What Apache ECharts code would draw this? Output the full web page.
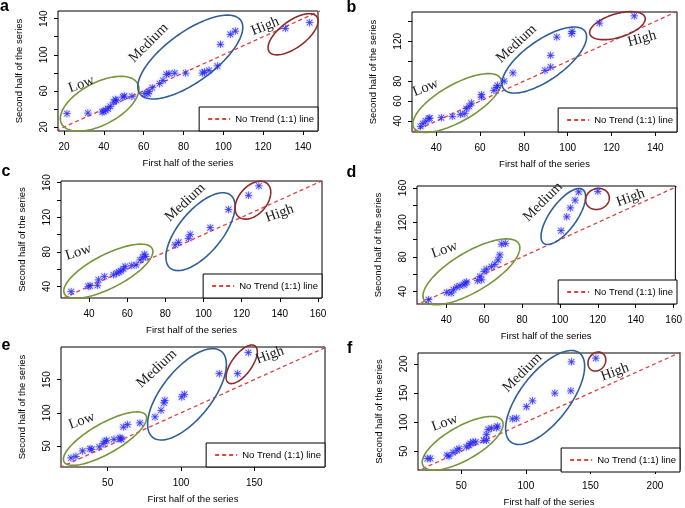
<!DOCTYPE html>
<html><head><meta charset="utf-8">
<script src="https://cdn.jsdelivr.net/npm/echarts@6/dist/echarts.min.js"></script>
<style>html,body{margin:0;padding:0;background:#fff}#c{width:685px;height:508px}</style>
</head><body><div id="c"></div>
<script>
// ---- data (first half vs second half of the series) ----
const panelLetters = ['a','b','c','d','e','f'];
const regionNames = ['Low','Medium','High'];
const legendName = 'No Trend (1:1) line';
const trendEnds = [0, 250];

const aFirst  = [21.5,32,39.2,40,40.9,42.1,43.3,44.9,45.8,46.3,49.6,50.3,54.1,60.5,62.2,62.7,64.3,68,69.7,71.4,72.7,75.6,81.1,89.5,90.5,92.8,97,98.5,103.5,106,131.1,143.3];
const aSecond = [34.8,35.5,36.6,37.4,38.5,40.3,42.9,47.7,50.6,49.5,53.2,54.3,53.9,56.9,56.9,59.5,63.6,68,71.7,78.3,79.1,79.8,79.8,79.8,80.9,82.8,87.6,111.6,122.7,126.3,129.3,135.6];

const bFirst  = [32.8,33.9,35.1,36.6,37,42.3,47.3,51,53,53.7,55,56,60.6,60.6,66.3,67.5,67.9,71,75,89.6,92.2,92.2,95,101.8,102,114.5,130.4];
const bSecond = [34.6,37.3,40,42.3,43,43.3,44.7,46.7,47.4,52.4,54.7,58,64,66.4,70.8,73.4,75.8,80.1,88.2,90.8,94.2,105.9,124.3,127.6,130,138.3,145.4];

const cFirst  = [30.6,39.6,40.5,44.4,44.9,48,52.8,54.5,55.7,56.6,58,58.9,62.4,64.7,66.8,68.2,69,69.7,85.1,86.9,92.1,93,103.5,113.1,123.6,129];
const cSecond = [33.9,40,40.8,41.2,47.7,51.5,53.4,55.3,56.5,58,60.3,63,64.2,64.9,70.7,73.4,77.2,74.5,87.9,91,95.6,100.2,107.9,129,145.4,156.2];

const dFirst  = [30.7,40.3,42.6,43.8,45.6,47.3,49.4,50,50.8,56.6,57.8,58.7,60,61.3,63.9,65.7,67.4,68.3,69.2,71.3,100.6,103.6,105.5,108,109.9,120];
const dSecond = [30.4,38.8,38.1,41.9,45,46.5,47.7,49.6,50.8,52.7,57.3,53.5,63,65.8,68.8,71.5,76.5,82.3,95,95.8,110.4,126.5,136.9,145.8,155.4,156.2];

const eFirst  = [25,28.4,32.9,38,39.1,44.3,47,48.2,49.3,54.3,58.4,59.5,58.9,60.7,63.6,72,82.3,86.4,88.4,89,100.5,102.3,126.1,138.6,145.9];
const eSecond = [31.9,34.4,42.5,46,45,48.5,53.5,57,58.5,60,62.6,60,61,78.6,82.2,84.7,93.7,103.8,114.8,118.8,123.9,127.9,159,159,190.7];

const fFirst  = [23.6,26,38.9,40.4,43.5,46.6,48.2,53.9,56,57,59,61.1,67.3,69.4,69.4,70.7,73.3,77.2,77.9,89.6,92.7,100.4,105.1,122.4,134.8,135.3,154.2];
const fSecond = [37.5,37.5,43.2,41.5,47.7,51.7,54.5,57.4,60.2,63,65.8,65.8,68.7,68.7,78.3,87.4,89.6,90.2,93,105.5,106.6,126.4,136.6,149.6,153.6,203.4,209.6];

// region outlines: [centreX, centreY, majorEndX, majorEndY, minor/major ratio] for Low, Medium, High
const aRegions = [[37.9,45.8,57,68,0.49],[83.4,97.5,108.7,138.2,0.40],[135,122.7,146.9,142.2,0.45]];
const bRegions = [[49.5,58.1,69.3,82.8,0.37],[89.3,101.2,107.9,130,0.40],[122.7,135.7,135.3,144,0.41]];
const cRegions = [[50.1,57.6,73.1,83.7,0.34],[98.4,103.3,114.3,145.4,0.455],[125.9,139.7,133.4,158.9,0.64]];
const dRegions = [[53.3,62.7,78.3,95.4,0.36],[101.8,126.9,112.1,158.1,0.40],[119.8,147.3,125.8,151.9,0.86]];
const eRegions = [[48.2,61.1,76.1,96.2,0.32],[104.1,127.9,127.5,192.7,0.45],[141.4,173.1,150.5,200.8,0.44]];
const fRegions = [[51,63.6,81.7,102.1,0.37],[114.9,142.2,141.5,218.6,0.44],[155,203.9,159.4,218.1,0.83]];

// tick values / tick labels
const xTicks  = [[20,40,60,80,100,120,140],[40,60,80,100,120,140],[40,60,80,100,120,140,160],[40,60,80,100,120,140,160],[50,100,150],[50,100,150,200]];
const xLabels = xTicks;
const yTicks  = [[20,40,60,80,100,120,140],[40,60,80,100,120,140],[40,60,80,100,120,140,160],[40,60,80,100,120,140,160],[50,100,150],[50,100,150,200]];
const yLabels = [[20,60,100,140],[40,60,80,120],[40,80,120,160],[40,80,120,160],[50,100,150],[50,100,150,200]];

// ---- layout ----
const panels = [
  {x:aFirst,y:aSecond,reg:aRegions},{x:bFirst,y:bSecond,reg:bRegions},{x:cFirst,y:cSecond,reg:cRegions},
  {x:dFirst,y:dSecond,reg:dRegions},{x:eFirst,y:eSecond,reg:eRegions},{x:fFirst,y:fSecond,reg:fRegions}
];
const grids = [
  {left:58,top:11,width:260,height:120},{left:412,top:12,width:265,height:120},
  {left:61,top:181,width:261,height:117},{left:417,top:186,width:260,height:118},
  {left:61,top:347,width:264,height:120},{left:418,top:353,width:262,height:119}
];
const xRange = [[17,147.5],[28.9,149.9],[25.3,162.1],[24.6,160.9],[18.2,198.2],[16.4,219.4]];
const yRange = [[15.6,148.5],[29,149.4],[26.6,161.9],[25.4,162.3],[18.3,199.2],[17.7,218.6]];
// region label anchors [x, y, rotation deg]
const labelPos = [
  [[28.7,67.3,20],[62.5,113,45],[121,131.5,22]],
  [[35.1,73.4,22],[76.6,117.6,43],[133.9,122.6,15]],
  [[34.4,79.5,18],[90.4,137,43],[139.9,124.4,20]],
  [[39.1,88.1,20],[91,143.8,45],[137.3,148.5,20]],
  [[32.3,87.7,20],[83.4,166.6,43],[160.7,186.7,20]],
  [[37.1,98.7,20],[97.3,184.7,45],[169,185.8,20]]
];
const letterPos = [[0,6.5],[346.5,7.8],[1.5,171.5],[346.5,172.5],[1.5,345.2],[347,348.5]];
const regionColors = ['#77963a','#2f5f97','#8f2b2b'];
const SANS = 'Liberation Sans';
const star = 'path://M0 9H20V11H0Z M9 0H11V20H9Z M2.9 1.5L18.5 17.1L17.1 18.5L1.5 2.9Z M17.1 1.5L18.5 2.9L2.9 18.5L1.5 17.1Z';

function renderRegion(params, api) {
  const c = api.coord([api.value(0), api.value(1)]);
  const e = api.coord([api.value(2), api.value(3)]);
  const r = api.value(4);
  const dx = e[0]-c[0], dy = e[1]-c[1];
  const pts = [];
  for (let k = 0; k < 120; k++) {
    const t = k/120*2*Math.PI;
    pts.push([c[0] + Math.cos(t)*dx - Math.sin(t)*dy*r, c[1] + Math.cos(t)*dy + Math.sin(t)*dx*r]);
  }
  return {type:'polygon', shape:{points:pts}, silent:true,
    style:{fill:'none', stroke:regionColors[params.dataIndex], lineWidth:1.6}};
}
function renderRegionLabel(params, api) {
  const p = api.coord([api.value(0), api.value(1)]);
  return {type:'text', x:p[0], y:p[1], rotation: api.value(2)*Math.PI/180, silent:true,
    style:{text: regionNames[params.dataIndex], font:'14.5px "Liberation Serif"', fill:'#1a1a1a', align:'center', verticalAlign:'middle'}};
}

const xAxis = [], yAxis = [], series = [], legend = [], graphic = [];
panels.forEach((p, i) => {
  xAxis.push({type:'value', gridIndex:i, min:xRange[i][0], max:xRange[i][1],
    splitLine:{show:false}, axisLine:{show:false},
    axisTick:{show:true, length:4, lineStyle:{color:'#000'}, customValues:xTicks[i]},
    axisLabel:{customValues:xLabels[i], color:'#000', fontSize:10, fontFamily:SANS, margin:11},
    name:'First half of the series', nameLocation:'middle', nameGap:27,
    nameTextStyle:{color:'#000', fontSize:9.5, fontFamily:SANS}});
  yAxis.push({type:'value', gridIndex:i, min:yRange[i][0], max:yRange[i][1],
    splitLine:{show:false}, axisLine:{show:false},
    axisTick:{show:true, length:4, lineStyle:{color:'#000'}, customValues:yTicks[i]},
    axisLabel:{customValues:yLabels[i], rotate:90, color:'#000', fontSize:10, fontFamily:SANS, margin:9},
    name:'Second half of the series', nameLocation:'middle', nameGap:34,
    nameTextStyle:{color:'#000', fontSize:9.5, fontFamily:SANS}});
  series.push({type:'line', name:legendName, xAxisIndex:i, yAxisIndex:i, clip:true, symbol:'none', z:2,
    data: trendEnds.map(v => [v, v]), lineStyle:{color:'#e0423c', width:1.3, type:[4,3]}, itemStyle:{color:'#e0423c'}});
  series.push({type:'custom', xAxisIndex:i, yAxisIndex:i, renderItem:renderRegion, z:3, data:p.reg});
  series.push({type:'custom', xAxisIndex:i, yAxisIndex:i, renderItem:renderRegionLabel, z:3, data:labelPos[i]});
  series.push({type:'scatter', xAxisIndex:i, yAxisIndex:i, z:5, symbol:star, symbolSize:7.5,
    data: p.x.map((v, k) => [v, p.y[k]]),
    itemStyle:{color:'#1515f0', shadowBlur:3, shadowColor:'rgba(110,110,255,0.8)'}});
  const g = grids[i];
  legend.push({data:[legendName], selectedMode:false, right:685-(g.left+g.width), bottom:508-(g.top+g.height),
    orient:'horizontal', backgroundColor:'#fff', borderColor:'#000', borderWidth:1, borderRadius:0,
    padding:[7,4,7,8], itemWidth:22, itemHeight:10, itemStyle:{opacity:0},
    textStyle:{color:'#000', fontSize:9.5, fontFamily:SANS}});
  graphic.push({type:'text', left:letterPos[i][0], top:letterPos[i][1]-8,
    style:{text:panelLetters[i], font:'bold 16px "Liberation Sans"', fill:'#000'}});
});

const chart = echarts.init(document.getElementById('c'), null, {renderer:'canvas'});
chart.setOption({
  animation:false, backgroundColor:'#fff',
  grid: grids.map(g => Object.assign({show:true, borderColor:'#000', borderWidth:1, backgroundColor:'transparent'}, g)),
  xAxis, yAxis, series, legend, graphic
});
</script></body></html>
